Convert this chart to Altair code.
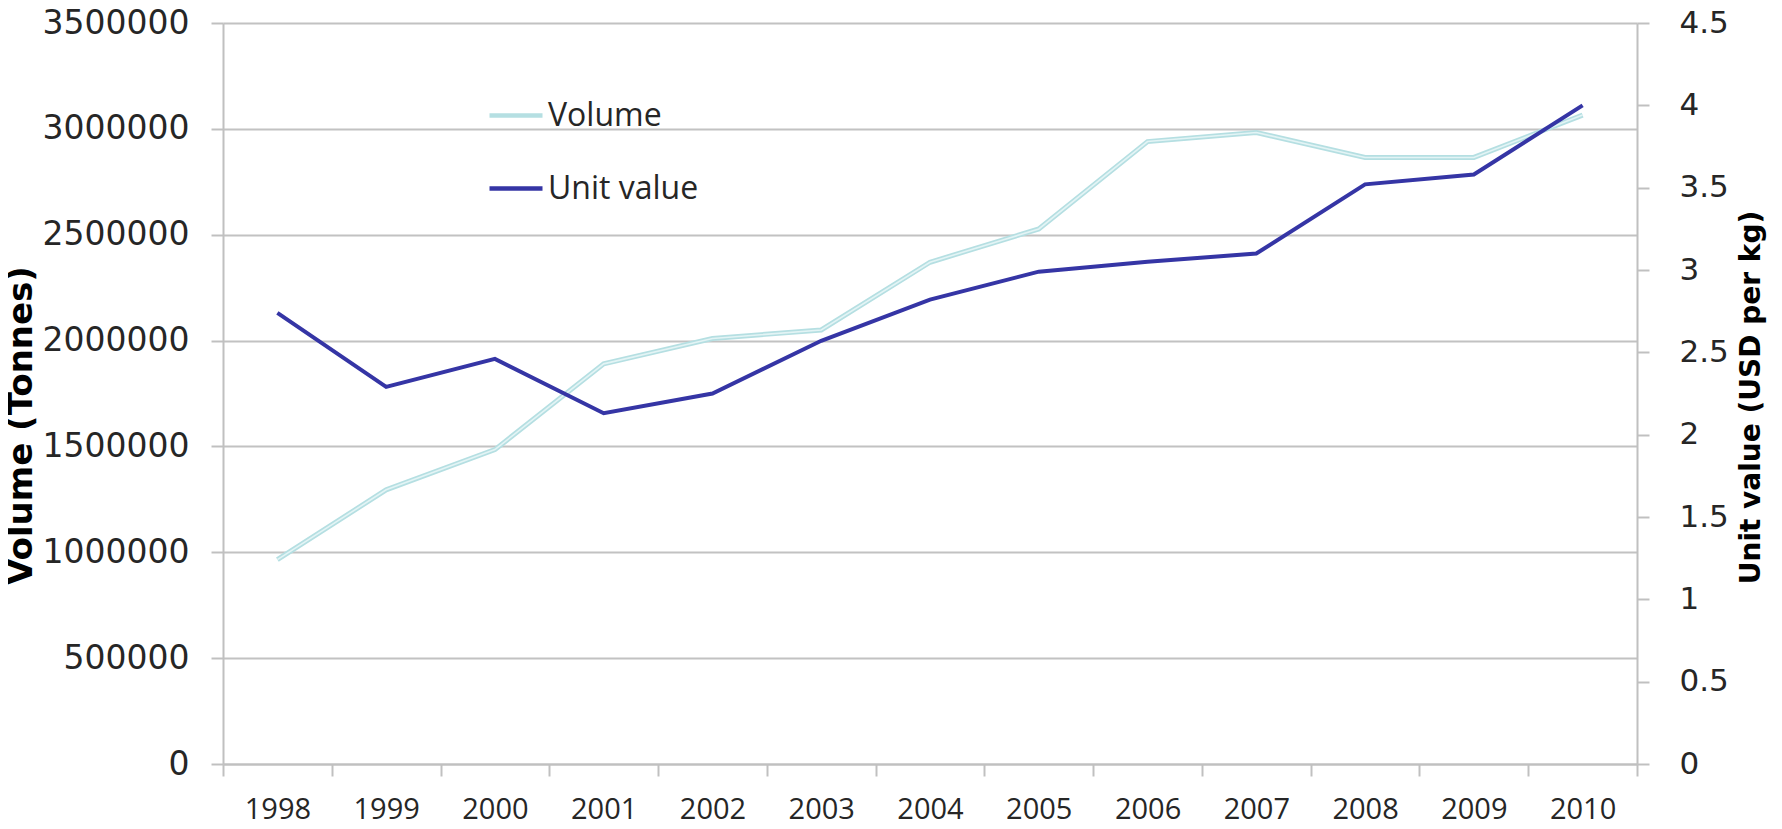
import altair as alt
import pandas as pd

# ---- data ----
years = ["1998", "1999", "2000", "2001", "2002", "2003", "2004",
         "2005", "2006", "2007", "2008", "2009", "2010"]
volume_tonnes = [965000, 1295000, 1485000, 1890000, 2010000, 2050000, 2370000,
                 2527000, 2940000, 2983000, 2865000, 2865000, 3065000]
unit_value_usd_kg = [2.74, 2.29, 2.46, 2.13, 2.25, 2.57, 2.82,
                     2.99, 3.05, 3.10, 3.52, 3.58, 4.00]
series_names = ["Volume", "Unit value"]
series_colors = ["#b5dfe2", "#3535a5"]
left_ticks = [0, 500000, 1000000, 1500000, 2000000, 2500000, 3000000, 3500000]
right_ticks = [0, 0.5, 1, 1.5, 2, 2.5, 3, 3.5, 4, 4.5]

df_v = pd.DataFrame({"year": years, "value": volume_tonnes, "series": "Volume"})
df_u = pd.DataFrame({"year": years, "value": unit_value_usd_kg, "series": "Unit value"})

LABEL_FONT = "Open Sans"
NUM_FONT = "DejaVu Sans"
TITLE_FONT = "DejaVu Sans"
GRAY = "#c0c0c0"
TXT = "#262626"

color_scale = alt.Scale(domain=series_names, range=series_colors)

x_axis = alt.Axis(title=None, labelAngle=0, tickBand="extent", labelFont=LABEL_FONT,
                  labelFontSize=29, labelPadding=19, labelColor=TXT)
x_enc = alt.X("year:O", bandPosition=0.5,
              scale=alt.Scale(type="band", paddingInner=0, paddingOuter=0),
              axis=x_axis)

legend = alt.Legend(orient="none", legendX=264, legendY=63.5, title=None,
                    symbolType="stroke", symbolSize=2809, symbolStrokeWidth=4.5,
                    labelFont=LABEL_FONT, labelFontSize=32, labelColor=TXT,
                    labelOffset=3, rowPadding=28, padding=0, direction="vertical")

y_left = alt.Y("value:Q",
               scale=alt.Scale(domain=[0, 3500000], nice=False),
               axis=alt.Axis(orient="left", values=left_ticks, format="d", grid=True,
                             labelFont=NUM_FONT, labelFontSize=33, labelPadding=22,
                             labelColor=TXT,
                             title="Volume (Tonnes)", titleFont=TITLE_FONT,
                             titleFontWeight="bold", titleFontSize=34, titleAngle=270,
                             titleX=-192, titleY=402, titleAlign="center",
                             titleBaseline="alphabetic", titleColor="#000000"))

vol = alt.Chart(df_v).mark_line(strokeWidth=5).encode(
    x=x_enc,
    y=y_left,
    color=alt.Color("series:N", scale=color_scale, legend=legend),
)
vol_inner = alt.Chart(df_v).mark_line(strokeWidth=1.6, color="#e3f4f5").encode(
    x=x_enc,
    y=y_left,
)

unit = alt.Chart(df_u).mark_line(strokeWidth=4).encode(
    x=x_enc,
    y=alt.Y("value:Q",
            scale=alt.Scale(domain=[0, 4.5], nice=False),
            axis=alt.Axis(orient="right", values=right_ticks, format="~g", grid=False,
                          labelFont=NUM_FONT, labelFontSize=31, labelPadding=30,
                          labelColor=TXT,
                          title="Unit value (USD per kg)", titleFont=TITLE_FONT,
                          titleFontWeight="bold", titleFontSize=28, titleAngle=270,
                          titleX=122, titleY=374, titleAlign="center",
                          titleBaseline="alphabetic", titleColor="#000000")),
    color=alt.Color("series:N", scale=color_scale, legend=legend),
)

chart = alt.layer(alt.layer(vol, vol_inner), unit).resolve_scale(y="independent").properties(
    width=1414, height=741,
    padding={"left": 215, "top": 15, "right": 137, "bottom": 57},
    autosize=alt.AutoSizeParams(type="none"),
    background="#ffffff",
).configure_view(stroke=None).configure_axis(
    domainColor=GRAY, domainWidth=2, tickColor=GRAY, tickWidth=2, tickSize=12,
    gridColor="#c2c2c2", gridWidth=2,
)

chart.save("out.html", embed_options={"renderer": "svg", "actions": False})
